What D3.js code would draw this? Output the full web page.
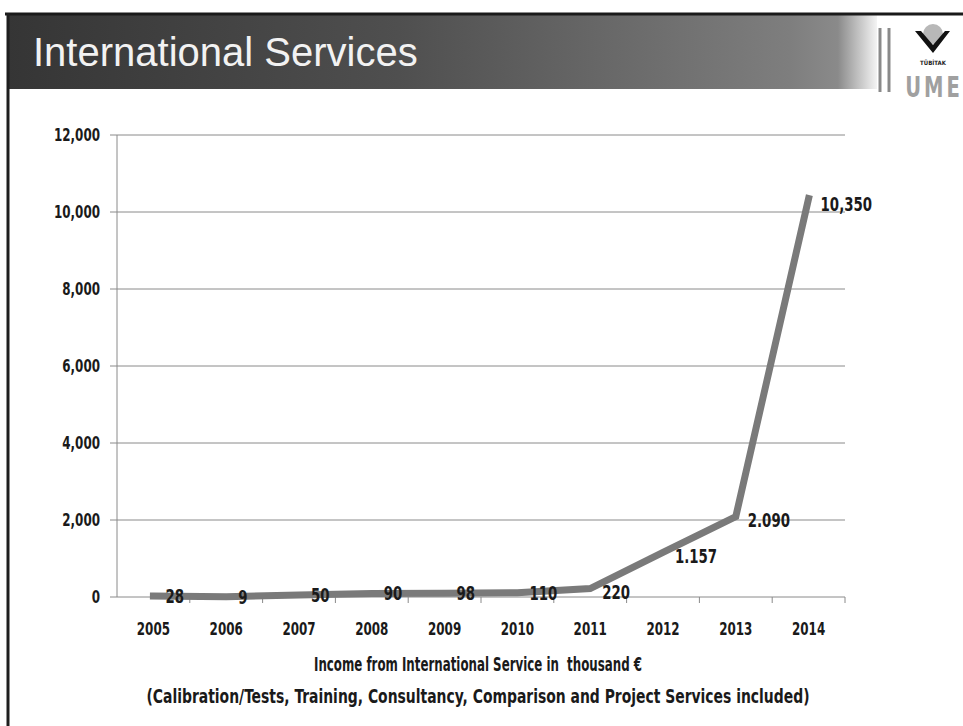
<!DOCTYPE html>
<html>
<head>
<meta charset="utf-8">
<script src="https://cdn.jsdelivr.net/npm/d3@7"></script>
<style>
  html, body { margin: 0; padding: 0; background: #fff; }
  svg { display: block; }
</style>
</head>
<body>
<svg id="chart" width="963" height="726"></svg>
<script>
const years = ["2005","2006","2007","2008","2009","2010","2011","2012","2013","2014"];
const income = [28, 9, 50, 90, 98, 110, 220, 1157, 2090, 10350];
const valueLabels = ["28","9","50","90","98","110","220","1.157","2.090","10,350"];
const yTicks = [0, 2000, 4000, 6000, 8000, 10000, 12000];
const titleText = "International Services";
const captionLines = ["Income from International Service in\u00A0 thousand \u20AC",
  "(Calibration/Tests, Training, Consultancy, Comparison and Project Services included)"];

const svg = d3.select("#chart");
const condensed = "'DejaVu Sans Condensed', 'DejaVu Sans', sans-serif";
const SX = 0.78; // horizontal squeeze to mimic a condensed face

// helper: condensed text placed at (x, y)
function ctext(sel, xf, yf) {
  return sel.attr("x", 0).attr("y", 0)
    .attr("transform", (d, i) => `translate(${xf(d, i)},${yf(d, i)}) scale(${SX},1)`)
    .attr("font-family", condensed).attr("font-weight", "bold").attr("fill", "#1a1a1a");
}

// ---- header ----
const defs = svg.append("defs");
const grad = defs.append("linearGradient").attr("id", "hdr").attr("x1", "0").attr("x2", "1");
grad.append("stop").attr("offset", "0").attr("stop-color", "#353535");
grad.append("stop").attr("offset", "0.45").attr("stop-color", "#4f4f4f");
grad.append("stop").attr("offset", "0.9").attr("stop-color", "#7e7e7e");
grad.append("stop").attr("offset", "0.955").attr("stop-color", "#8a8a8a");
grad.append("stop").attr("offset", "1").attr("stop-color", "#f4f4f4");
svg.append("rect").attr("x", 7).attr("y", 13).attr("width", 870).attr("height", 76).attr("fill", "url(#hdr)");
svg.append("line").attr("x1", 5).attr("x2", 963).attr("y1", 14).attr("y2", 14).attr("stroke", "#1a1a1a").attr("stroke-width", 3);
svg.append("text").attr("x", 33).attr("y", 66).text(titleText)
  .attr("fill", "#f2f2f2").attr("font-family", "'Liberation Sans', Arial, sans-serif").attr("font-size", 40);
// double vertical lines
[880, 889].forEach(x => svg.append("line").attr("x1", x).attr("x2", x).attr("y1", 28).attr("y2", 92)
  .attr("stroke", "#8a8a8a").attr("stroke-width", 3));
// left border
svg.append("line").attr("x1", 8).attr("x2", 8).attr("y1", 13).attr("y2", 726).attr("stroke", "#1e1e1e").attr("stroke-width", 3);
// logo
const logo = svg.append("g");
logo.append("circle").attr("cx", 933).attr("cy", 34).attr("r", 10).attr("fill", "#b8b8b8");
logo.append("path").attr("d", "M915,31 L921,31 L933,45 L945,31 L950,31 L933,53 Z").attr("fill", "#111");
logo.append("text").attr("x", 933).attr("y", 65).attr("text-anchor", "middle").text("TÜBİTAK")
  .attr("font-family", condensed).attr("font-size", 6).attr("font-weight", "bold").attr("fill", "#222");
logo.append("text").attr("transform", "translate(934,97) scale(0.75,1)").attr("text-anchor", "middle").text("UME")
  .attr("font-family", condensed).attr("font-weight", "bold").attr("font-size", 29).attr("fill", "#a0a0a0").attr("letter-spacing", 4);

// ---- chart ----
const x = d3.scaleBand().domain(years).range([117, 845]);
const y = d3.scaleLinear().domain([0, 12000]).range([597, 135]);

// gridlines
svg.append("g").selectAll("line").data(yTicks).join("line")
  .attr("x1", 110).attr("x2", 845)
  .attr("y1", d => y(d)).attr("y2", d => y(d))
  .attr("stroke", "#8a8a8a").attr("stroke-width", 1);

// y axis line
svg.append("line").attr("x1", 117).attr("x2", 117).attr("y1", y(12000)).attr("y2", y(0))
  .attr("stroke", "#8a8a8a").attr("stroke-width", 1);

// y tick labels
ctext(svg.append("g").selectAll("text").data(yTicks).join("text"), () => 100, d => y(d))
  .attr("dy", "0.36em").attr("text-anchor", "end").attr("font-size", 17)
  .text(d => d3.format(",")(d));

// x ticks at band boundaries
const bounds = years.map(d => x(d)).concat([x(years[years.length - 1]) + x.bandwidth()]);
svg.append("g").selectAll("line").data(bounds.slice(1)).join("line")
  .attr("x1", d => d).attr("x2", d => d).attr("y1", y(0)).attr("y2", y(0) + 6)
  .attr("stroke", "#8a8a8a").attr("stroke-width", 1);

// x labels
ctext(svg.append("g").selectAll("text").data(years).join("text"), d => x(d) + x.bandwidth() / 2, () => 635)
  .attr("text-anchor", "middle").attr("font-size", 17)
  .text(d => d);

// line
const pts = years.map((d, i) => [x(d) + x.bandwidth() / 2, y(income[i])]);
svg.append("path").datum(pts)
  .attr("d", d3.line())
  .attr("fill", "none").attr("stroke", "#7a7a7a").attr("stroke-width", 7)
  .attr("stroke-linejoin", "miter").attr("stroke-linecap", "square");

// value labels
ctext(svg.append("g").selectAll("text").data(pts).join("text"),
    d => d[0] + 12, (d, i) => d[1] + (i === 9 ? 6 : i >= 6 ? 4 : 0))
  .attr("dy", "0.36em").attr("font-size", 19)
  .text((d, i) => valueLabels[i]);

// caption
const capWidths = [328, 663];
captionLines.forEach((t, i) => {
  svg.append("text").attr("x", 478 - capWidths[i] / 2).attr("y", 671 + i * 32)
    .attr("textLength", capWidths[i]).attr("lengthAdjust", "spacingAndGlyphs")
    .text(t)
    .attr("font-family", condensed).attr("font-weight", "bold").attr("font-size", 19).attr("fill", "#1a1a1a");
});
</script>
</body>
</html>
